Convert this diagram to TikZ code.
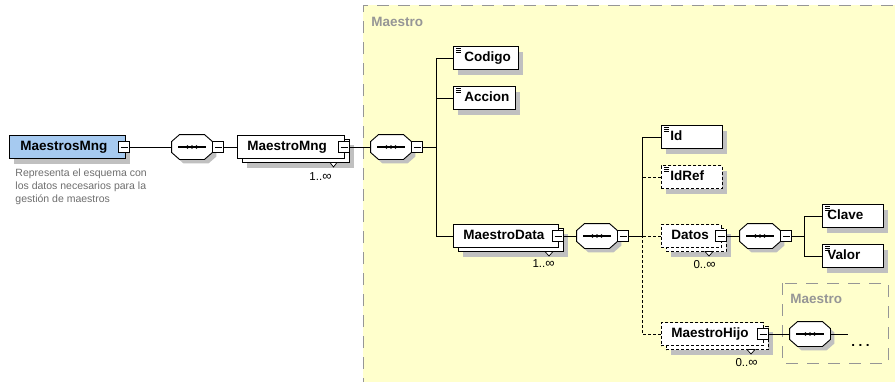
\documentclass[tikz,border=0pt]{standalone}
\usepackage{fontspec}
\setmainfont{Liberation Sans}
\usetikzlibrary{shadows,calc}
\uchyph=0
\definecolor{ybg}{RGB}{255,255,204}
\definecolor{shc}{RGB}{192,192,192}
\definecolor{blu}{RGB}{166,202,240}
\definecolor{cgr}{RGB}{150,150,150}
\definecolor{tgr}{RGB}{110,110,110}
\newcommand{\lblfont}{\bfseries\fontsize{13.5}{15}\selectfont}
\newcommand{\infsym}{{\fontsize{13}{12}\selectfont ∞}}
\newcommand{\seqoct}[1]{%
 \fill[shc] ([shift={(12,4)}]#1.north west) -- ([shift={(-4,4)}]#1.north east) -- ([shift={(4,11)}]#1.north east) -- ([shift={(4,-3)}]#1.south east) -- ([shift={(-4,4)}]#1.south east) -- ([shift={(12,4)}]#1.south west) -- ([shift={(4,-3)}]#1.south west) -- ([shift={(4,11)}]#1.north west) -- cycle;
 \draw[fill=white] ([shift={(8,0)}]#1.north west) -- ([shift={(-8,0)}]#1.north east) -- ([shift={(0,7)}]#1.north east) -- ([shift={(0,-7)}]#1.south east) -- ([shift={(-8,0)}]#1.south east) -- ([shift={(8,0)}]#1.south west) -- ([shift={(0,-7)}]#1.south west) -- ([shift={(0,7)}]#1.north west) -- cycle;
 \draw[line width=1.1pt] ([shift={(-14,0)}]#1.center) -- ([shift={(14,0)}]#1.center);
 \fill ([shift={(-4.5,0)}]#1.center) circle[radius=1.9pt] (#1.center) circle[radius=1.9pt] ([shift={(4.5,0)}]#1.center) circle[radius=1.9pt];
}
\newcommand{\elicon}[1]{%
 \draw[line width=0.6pt] ([shift={(3,2.5)}]#1.north west) -- ++(5,0) ([shift={(3,4.2)}]#1.north west) -- ++(5,0) ([shift={(3,5.9)}]#1.north west) -- ++(5,0);
}
\begin{document}
\begin{tikzpicture}[x=1pt,y=-1pt,line width=0.9pt,
 dshadow/.style={drop shadow={shadow xshift=5pt,shadow yshift=-5pt,fill=shc,opacity=1}},
 elemb/.style={draw,fill=white,anchor=west,minimum height=23pt,inner ysep=0pt,align=left,font=\lblfont,text height=9.7pt,text depth=2.6pt},
 elem/.style={elemb,dshadow},
 backb/.style={draw,fill=white,minimum height=23pt,inner sep=0pt,dshadow},
 optl/.style={dash pattern=on 3pt off 2pt},
 mbox/.style={draw,fill=white,minimum size=11pt,inner sep=0pt,line width=0.8pt,
   path picture={\draw[line width=0.8pt] ([xshift=2pt]path picture bounding box.west) -- ([xshift=-2pt]path picture bounding box.east);}},
 seqn/.style={minimum width=40pt,minimum height=24pt,inner sep=0pt},
 notch/.style={draw,fill=white,line width=0.7pt},
 card/.style={font=\fontsize{11.5}{12}\selectfont,anchor=base east,inner sep=0pt},
 cont/.style={draw=cgr,dash pattern=on 12pt off 9pt,line width=1pt},
 conttitle/.style={font=\lblfont,text=cgr,anchor=west,inner sep=0pt},
]
\useasboundingbox (0,0) rectangle (895,381);
\fill[white] (0,0) rectangle (895,381);
% outer container
\fill[ybg] (363,5) rectangle (900,390);
\draw[cont] (363,390) -- (363,5) -- (900,5);
\node[conttitle] (ctitle) at (371,22) {Maestro};
% inner container
\draw[cont] (782,283) rectangle (888,363);
\node[conttitle] (ctitle2) at (790,299) {Maestro};

% root
\node[elem,fill=blu,inner xsep=11pt,text width=94pt] (root) at (9,147) {MaestrosMng};
\node[mbox] (m0) at (124,147) {};
\node[anchor=north west,inner sep=0pt,align=left,text=tgr,font=\fontsize{10.5}{13}\selectfont] (desc) at (15,168.3) {Representa el esquema con\\los datos necesarios para la\\gestión de maestros};

% seq 1
\node[seqn] (s1) at (192,147) {};
\seqoct{s1}
\node[mbox,anchor=west] (m1) at (s1.east) {};

% MaestroMng (stacked)
\node[backb,minimum width=107pt] (mmngb) at (295.5,151) {};
\draw[notch] (330,162.5) -- (337,162.5) -- (333.5,167) -- cycle;
\node[elemb,inner xsep=10pt,text width=87pt] (mmng) at (237,147) {MaestroMng};
\node[mbox] (m2) at (344,147) {};
\node[card] (c1) at (332,180) {1..\infsym};

% seq 2
\node[seqn] (s2) at (391,147) {};
\seqoct{s2}
\node[mbox,anchor=west] (m3) at (s2.east) {};
\coordinate (b1) at (436,147);

% Codigo / Accion
\node[elem,inner xsep=11pt,text width=43pt] (codigo) at (453,58) {Codigo};
\elicon{codigo}
\node[elem,inner xsep=11pt,text width=40pt] (accion) at (453,98) {Accion};
\elicon{accion}

% MaestroData (stacked)
\node[backb,minimum width=105pt] (mdatab) at (510.5,240) {};
\draw[notch] (545,251.5) -- (553,251.5) -- (549,256) -- cycle;
\node[elemb,inner xsep=10pt,text width=85pt] (mdata) at (453,236) {MaestroData};
\node[mbox] (md) at (558,236) {};
\node[card] (c2) at (555,267) {1..\infsym};

% seq 3
\node[seqn] (s3) at (597,236) {};
\seqoct{s3}
\node[mbox,anchor=west] (m4) at (s3.east) {};
\coordinate (b2) at (642,236);

% Id / IdRef
\node[elem,inner xsep=9pt,text width=43pt] (id) at (661,137) {Id};
\elicon{id}
\node[elem,optl,inner xsep=9pt,text width=43pt] (idref) at (661,177) {IdRef};
\elicon{idref}

% Datos (stacked, optional)
\node[backb,optl,minimum width=60pt] (datosb) at (696,240) {};
\draw[notch] (705,251.5) -- (713,251.5) -- (709,256) -- cycle;
\node[elemb,optl,inner xsep=10pt,text width=40pt] (datos) at (661,236) {Datos};
\node[mbox] (mdt) at (721,236) {};
\node[card] (c3) at (716,268) {0..\infsym};

% seq 4
\node[seqn] (s4) at (760,236) {};
\seqoct{s4}
\node[mbox,anchor=west] (m5) at (s4.east) {};
\coordinate (b3) at (804,236);

% Clave / Valor
\node[elem,inner xsep=5pt,text width=51pt] (clave) at (822,216) {Clave};
\elicon{clave}
\node[elem,inner xsep=5pt,text width=51pt] (valor) at (822,256) {Valor};
\elicon{valor}

% MaestroHijo (stacked, optional)
\node[backb,optl,minimum width=102pt] (hijob) at (717,338) {};
\draw[notch] (747,349.5) -- (755,349.5) -- (751,354) -- cycle;
\node[elemb,optl,inner xsep=10pt,text width=82pt] (hijo) at (661,334) {MaestroHijo};
\node[mbox] (mh) at (763,334) {};
\node[card] (c4) at (758,366) {0..\infsym};

% seq 5
\node[seqn] (s5) at (810,334) {};
\seqoct{s5}
\coordinate (e5) at (848,334);
\node[anchor=base west,inner sep=0pt,font=\lblfont] (dots) at (851,346) {.\kern3.5pt.\kern3.5pt.};

% connectors
\draw (m0.east) -- (s1.west);
\draw (m1.east) -- (mmng.west);
\draw (m2.east) -- (s2.west);
\draw (m3.east) -- (b1);
\draw (codigo.west) -| (b1);
\draw (accion.west) -- (accion.west -| b1);
\draw (mdata.west) -| (b1);
\draw (md.east) -- (s3.west);
\draw (m4.east) -- (b2);
\draw (id.west) -| (b2);
\draw[optl] (idref.west) -- (idref.west -| b2);
\draw[optl] (datos.west) -- (b2);
\draw[optl] (hijo.west) -| (b2);
\draw (mdt.east) -- (s4.west);
\draw (m5.east) -- (b3);
\draw (clave.west) -| (b3);
\draw (valor.west) -| (b3);
\draw (mh.east) -- (s5.west);
\draw (s5.east) -- (e5);
\end{tikzpicture}
\end{document}
